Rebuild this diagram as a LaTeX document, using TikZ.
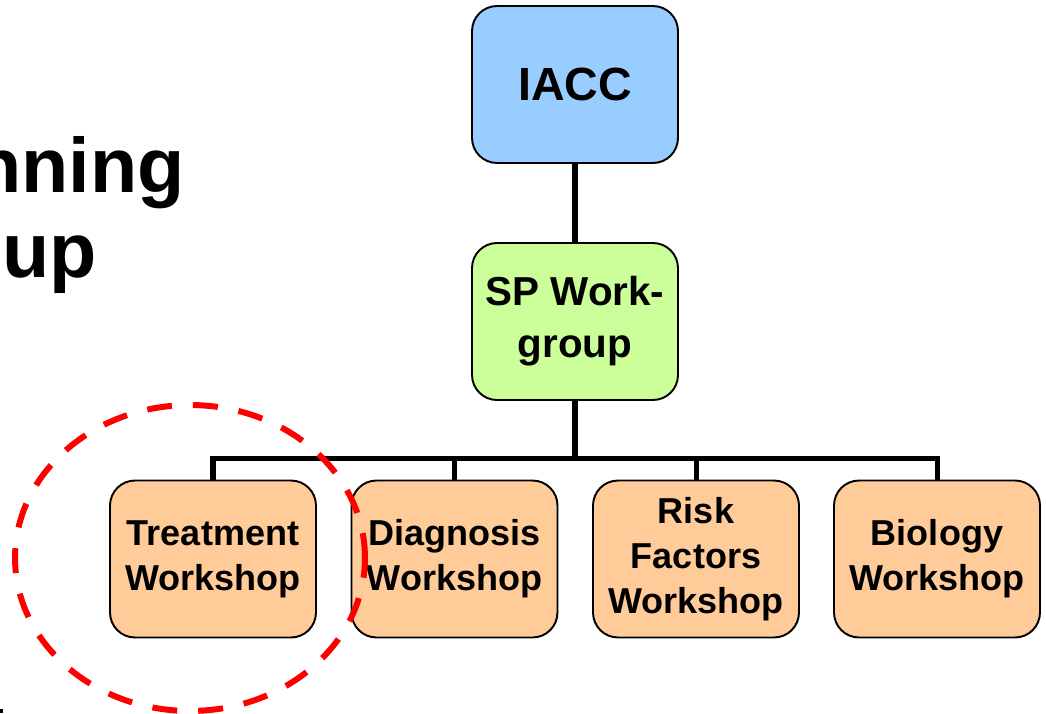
\documentclass[tikz,border=0pt]{standalone}
\usepackage{fontspec}
\setmainfont{Liberation Sans}
\usetikzlibrary{positioning}

\definecolor{topblue}{RGB}{153,204,255}
\definecolor{spgreen}{RGB}{204,255,153}
\definecolor{wsorange}{RGB}{255,204,153}

\tikzset{
  box/.style={draw, line width=1.1pt, rounded corners=0.5cm, minimum width=4.12cm,
    minimum height=3.14cm, align=center, inner sep=2pt,
    font=\bfseries\fontsize{20.5}{25.5}\selectfont},
  conn/.style={line width=2.85pt},
  ring/.style={draw=red, line width=3.4pt, dash pattern=on 0.5cm off 0.42cm},
  bigtitle/.style={anchor=base east, inner sep=0pt, font=\bfseries\fontsize{44}{50}\selectfont},
}

\begin{document}
\begin{tikzpicture}[x=0.02cm, y=-0.02cm]
\useasboundingbox (0,0) rectangle (1046,714);

% cut-off title on the left
\node[bigtitle] (title1) at (185,192) {nning};
\node[bigtitle] (title2) at (97,277) {oup};
\fill (0,709) rectangle (3,713);

\node[box, fill=topblue, font=\bfseries\fontsize{26.5}{32}\selectfont] (iacc) at (575,84.5) {IACC};
\node[box, fill=spgreen, font=\bfseries\fontsize{23}{29.5}\selectfont] (sp) at (575,321.5) {SP Work-\\group};

% workshops
\foreach \x/\name/\txt in {213/treat/{Treatment\\Workshop}, 454.5/diag/{Diagnosis\\Workshop},
    696/risk/{Risk\\Factors\\Workshop}, 937/bio/{Biology\\Workshop}} {
\node[box, fill=wsorange] (\name) at (\x,559) {\txt};
}

\coordinate (bus) at (575,458);
\path[conn] (iacc) edge (sp);
\draw[conn] (sp) -- (bus);
\foreach \name in {treat, diag, risk, bio} {
\draw[conn] (bus) -| (\name);
}

% highlight
\draw[ring] (190,558) ellipse [x radius=3.5cm, y radius=3.06cm];

\end{tikzpicture}
\end{document}
